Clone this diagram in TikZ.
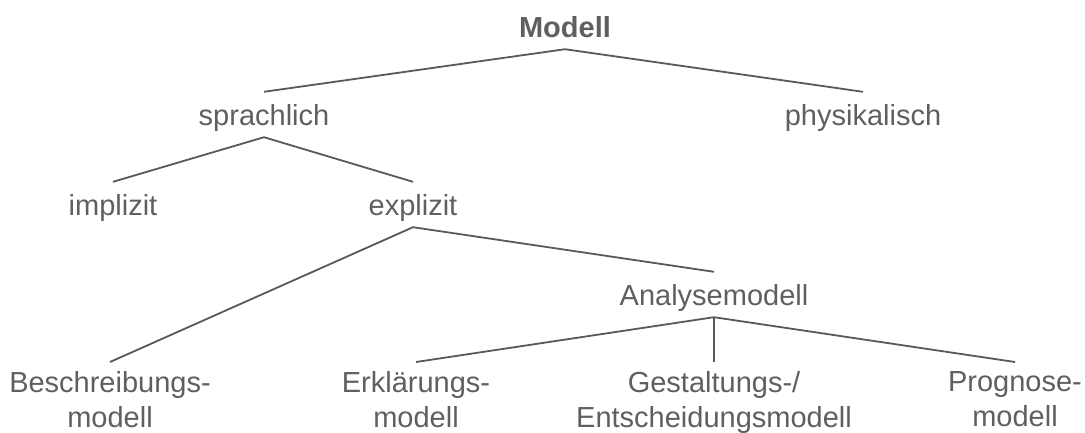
\documentclass[tikz,border=0pt]{standalone}
\usepackage{fontspec}
\setmainfont{Liberation Sans}
\definecolor{txtgray}{HTML}{5F5F5F}
\definecolor{linegray}{HTML}{595959}
\begin{document}
\begin{tikzpicture}[x=1pt,y=-1pt,
  every node/.style={text=txtgray, font=\fontsize{29}{35}\selectfont},
  lbl/.style={anchor=base, text height=21pt, text depth=0pt, inner xsep=0pt, inner ysep=12pt},
  leaf/.style={anchor=north, align=center, inner xsep=0pt, inner ysep=9pt},
  branch/.style={draw=linegray, line width=1.8pt}]
  \useasboundingbox (0,0) rectangle (1085,432);

  % tree levels
  \node[lbl, font=\fontsize{29}{35}\selectfont\bfseries] (modell) at (565,37) {Modell};
  \node[lbl] (sprach) at (264,125) {sprachlich};
  \node[lbl] (phys) at (863,125) {physikalisch};
  \node[lbl] (impl) at (113,215) {implizit};
  \node[lbl] (expl) at (413,215) {explizit};
  \node[lbl] (analyse) at (714,305) {Analysemodell};

  % leaves
  \node[leaf] (beschr) at (110,362) {Beschreibungs-\\modell};
  \node[leaf] (erkl) at (416,362) {Erklärungs-\\modell};
  \node[leaf] (gest) at (714,362) {Gestaltungs-/\\Entscheidungsmodell};
  \node[leaf] (prog) at (1015,362) {Prognose-\\modell};

  % connectors
  \draw[branch] (sprach.north) -- (modell.south) -- (phys.north);
  \draw[branch] (impl.north) -- (sprach.south) -- (expl.north);
  \draw[branch] (beschr.north) -- (expl.south) -- (analyse.north);
  \draw[branch] (erkl.north) -- (analyse.south) -- (prog.north);
  \draw[branch] (analyse.south) -- (gest.north);
\end{tikzpicture}
\end{document}
